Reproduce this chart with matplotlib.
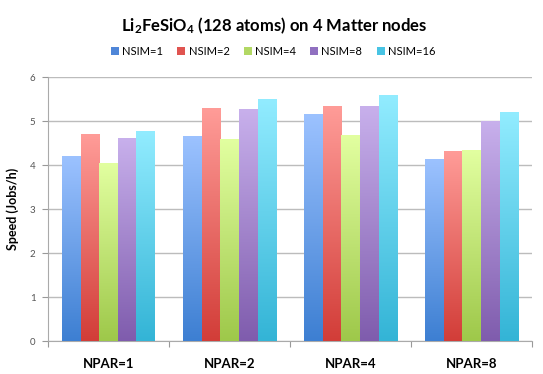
import matplotlib
matplotlib.use("Agg")
import matplotlib.pyplot as plt
import numpy as np
from matplotlib.colors import LinearSegmentedColormap
from matplotlib.patches import Patch

plt.rcParams['font.family'] = ['Lato', 'DejaVu Sans']
plt.rcParams['mathtext.fontset'] = 'custom'
plt.rcParams['mathtext.rm'] = 'Lato:bold'
plt.rcParams['mathtext.it'] = 'Lato:bold'
plt.rcParams['mathtext.bf'] = 'Lato:bold'

categories = ["NPAR=1", "NPAR=2", "NPAR=4", "NPAR=8"]
series = ["NSIM=1", "NSIM=2", "NSIM=4", "NSIM=8", "NSIM=16"]
nsim1 = [4.19, 4.65, 5.15, 4.12]
nsim2 = [4.69, 5.29, 5.34, 4.31]
nsim4 = [4.04, 4.59, 4.66, 4.34]
nsim8 = [4.61, 5.27, 5.33, 4.99]
nsim16 = [4.76, 5.48, 5.57, 5.20]
values = [nsim1, nsim2, nsim4, nsim8, nsim16]
top_colors = ["#9cc2ff", "#ff9c98", "#e2ffa0", "#c8b0ec", "#92ecff"]
bot_colors = ["#3d7fd2", "#d23d38", "#9ec84a", "#7f5cad", "#33b4d6"]
legend_colors = ["#4f86d8", "#e05450", "#b2d864", "#9070c0", "#48c4e4"]

fig = plt.figure(figsize=(5.43, 3.74), dpi=100)
ax = fig.add_axes([0.0884, 0.088, 0.8916, 0.706])

x = np.arange(len(categories))
n = len(series)
group_w = 0.77
w = group_w / n
grad = np.linspace(0, 1, 256).reshape(-1, 1)
for i, (vals, tc, bc) in enumerate(zip(values, top_colors, bot_colors)):
    pos = x - group_w / 2 + w * (i + 0.5)
    bars = ax.bar(pos, vals, width=w, facecolor="none", edgecolor="none", zorder=3)
    cmap = LinearSegmentedColormap.from_list(f"g{i}", [bc, tc])
    for b in bars:
        x0, y0 = b.get_x(), b.get_y()
        ax.imshow(grad, extent=[x0, x0 + b.get_width(), y0, y0 + b.get_height()],
                  origin="lower", cmap=cmap, aspect="auto", zorder=3, interpolation="bilinear")

ax.set_xlim(-0.5, len(categories) - 0.5)
ax.set_ylim(0, 6)
ax.set_yticks(range(0, 7))
ax.tick_params(axis='y', labelsize=7, colors="#555555", length=4, width=0.8, pad=5)
ax.tick_params(axis='y', color="#999999")
ax.set_xticks(x)
ax.set_xticklabels(categories, fontsize=9.5, fontweight="bold")
ax.tick_params(axis='x', length=0, pad=12)
ax.set_xticks(np.arange(-0.5, len(categories)), minor=True)
ax.tick_params(axis='x', which='minor', length=4, width=0.8, color="#999999")
ax.grid(axis='y', color="#bcbcbc", linewidth=1, zorder=0)
ax.set_axisbelow(True)
for s in ["top", "right"]:
    ax.spines[s].set_visible(False)
for s in ["left", "bottom"]:
    ax.spines[s].set_color("#aaaaaa")
    ax.spines[s].set_linewidth(0.8)
ax.set_ylabel("Speed (Jobs/h)", fontsize=9, fontweight="bold", labelpad=8)

fig.text(0.505, 0.93, "Li$_2$FeSiO$_4$ (128 atoms) on 4 Matter nodes",
         ha="center", va="center", fontsize=12, fontweight="bold")

handles = [Patch(facecolor=c, edgecolor="none") for c in legend_colors]
fig.legend(handles, series, loc="center", bbox_to_anchor=(0.503, 0.862), ncol=5,
           frameon=False, fontsize=8, handlelength=0.7, handleheight=0.7,
           handletextpad=0.3, columnspacing=1.3)

fig.savefig("out.png", dpi=100)
